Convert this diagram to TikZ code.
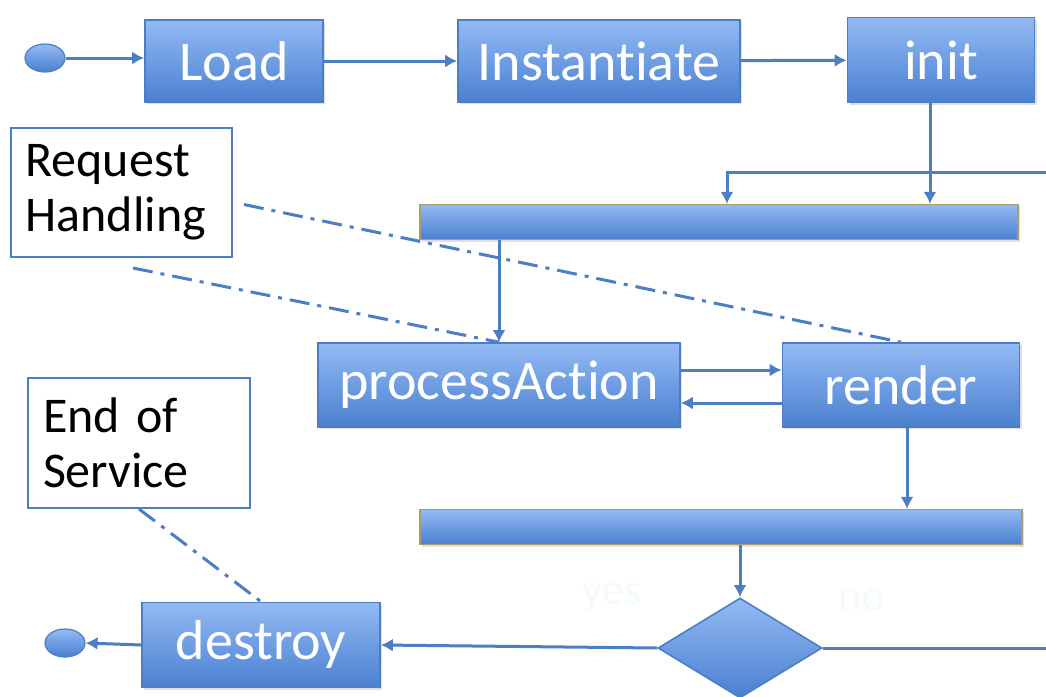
\documentclass[tikz,border=0pt]{standalone}
\usepackage{fontspec}
\setmainfont{Carlito}[Ligatures=NoCommon]
\usetikzlibrary{arrows.meta,shapes.geometric,shadows}
\definecolor{boxtop}{HTML}{93BAF4}
\definecolor{boxbot}{HTML}{4A80D0}
\definecolor{boxline}{HTML}{4B7EC3}
\definecolor{barline}{HTML}{A99C6E}
\definecolor{faint}{HTML}{F3FAFE}
\begin{document}
\begin{tikzpicture}
        [x=0.5pt,y=-0.5pt,
         stage/.style={draw=boxline,line width=0.8pt,top color=boxtop,bottom color=boxbot,
           text=white,font=\fontsize{28}{30}\selectfont,inner sep=0pt,
           drop shadow={opacity=0.25,shadow xshift=1pt,shadow yshift=-1pt}},
         forkbar/.style={draw=barline,line width=0.6pt,top color=boxtop,bottom color=boxbot,
           minimum height=17.5pt,inner sep=0pt,
           drop shadow={opacity=0.25,shadow xshift=1pt,shadow yshift=-1pt}},
         terminal/.style={ellipse,draw=boxline,line width=0.6pt,top color=boxtop,bottom color=boxbot,
           minimum width=20pt,minimum height=14pt,inner sep=0pt},
         note/.style={draw=boxline,line width=1pt,fill=white,align=left,inner sep=0pt,
           text width=96pt,font=\fontsize{25}{27.5}\selectfont},
         flow/.style={draw=boxline,line width=1.5pt,-{Latex[length=6pt,width=6.5pt]}},
         line/.style={draw=boxline,line width=1.5pt},
         remark/.style={draw=boxline,line width=1.5pt,dash pattern=on 10pt off 4pt on 2pt off 4pt},
         guard/.style={text=faint,font=\fontsize{22}{24}\selectfont}]
        \useasboundingbox (0,0) rectangle (1046,697);

        \node[terminal] (start) at (45,58) {};
        \node[stage,minimum width=89pt,minimum height=41pt] (load) at (234,61) {Load};
        \node[stage,minimum width=141pt,minimum height=41pt] (inst) at (599,61) {Instantiate};
        \node[stage,minimum width=93.5pt,minimum height=42.5pt] (init) at (941,60) {init};

        \node[note,minimum width=110.5pt,minimum height=64.5pt] (reqnote) at (121.5,192.5) {Request\\Handling};
        \node[forkbar,minimum width=299pt] (fork) at (719,222) {};

        \node[stage,minimum width=181pt,minimum height=42pt] (action) at (499,385) {processAction};
        \node[stage,minimum width=118.5pt,minimum height=42pt] (render) at (901,385) {render};

        \node[note,minimum width=111pt,minimum height=65pt] (endnote) at (139,443) {End of\\Service};
        \node[forkbar,minimum width=301pt] (join) at (721,527) {};

        \node[diamond,draw=boxline,line width=0.8pt,top color=boxtop,bottom color=boxbot,
              minimum width=82pt,minimum height=50pt,inner sep=0pt] (choice) at (740,648) {};
        \node[guard] (yes) at (612,597) {yes};
        \node[guard] (no) at (862,600) {no};

        \node[stage,minimum width=119pt,minimum height=42.5pt] (destroy) at (261,645) {destroy};
        \node[terminal] (stop) at (65,643) {};

        \coordinate (loopin) at (1046,172);
        \coordinate (loopx) at (727,0);
        \coordinate (noout) at (1046,648);

        \draw[flow] (start) -- (start -| load.west);
        \draw[flow] (load) -- (inst);
        \draw[flow] (inst) -- (init);
        \draw[flow] ([xshift=-5.5pt]init.south) -- ([xshift=-5.5pt]init.south |- fork.north);
        \draw[flow] (loopin) -| (fork.north -| loopx);
        \draw[flow] (action.north |- fork.south) -- (action.north);
        \draw[flow] ([yshift=7.5pt]action.east) -- ([yshift=7.5pt]render.west);
        \draw[flow] ([yshift=-9pt]render.west) -- ([yshift=-9pt]action.east);
        \draw[flow] ([xshift=3pt]render.south) -- ([xshift=3pt]render.south |- join.north);
        \draw[flow] (choice.north |- join.south) -- (choice.north);
        \draw[flow] (choice.west) -- (destroy.east);
        \draw[flow] (destroy.west) -- (stop.east);
        \draw[line] (choice.east) -- (noout);

        \draw[remark] ([xshift=5.5pt,yshift=-6pt]reqnote.east) -- (render.north);
        \draw[remark] ([xshift=5.75pt,yshift=-5pt]reqnote.south) -- (action.north);
        \draw[remark] (endnote.south) -- (destroy.north);
      \end{tikzpicture}
\end{document}
